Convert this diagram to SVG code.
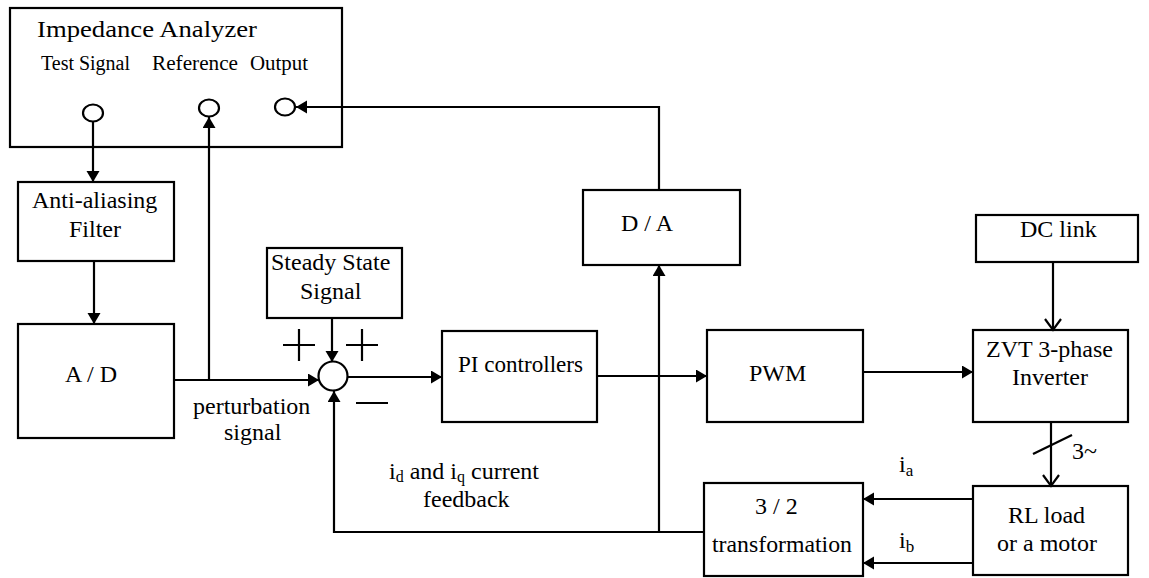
<svg xmlns="http://www.w3.org/2000/svg" width="1149" height="578" viewBox="0 0 1149 578">
<style>
.box{fill:#fff;stroke:#000;stroke-width:2.2}
.ln{fill:none;stroke:#000;stroke-width:2.2}
text{font-family:"Liberation Serif","Times New Roman",serif;fill:#000}
.t{font-size:24px}
.s{font-size:20px}
</style>
<defs>
<marker id="a" markerUnits="userSpaceOnUse" markerWidth="12" markerHeight="14" refX="11" refY="6.5" orient="auto">
<path d="M0,0 L11,6.5 L0,13 z" fill="#000"/>
</marker>
<marker id="v" markerUnits="userSpaceOnUse" markerWidth="16" markerHeight="20" refX="12" refY="9" orient="auto">
<path d="M1,1 L12,9 L1,17" fill="none" stroke="#000" stroke-width="2.2"/>
</marker>
</defs>
<rect width="1149" height="578" fill="#fff"/>
<g id="impedance-analyzer">
<rect class="box" x="10" y="8" width="332" height="139"/>
<text class="t" x="37" y="37" textLength="220" lengthAdjust="spacingAndGlyphs" font-family="Liberation Serif, serif">Impedance Analyzer</text>
<text class="s" x="41" y="70" textLength="89" lengthAdjust="spacingAndGlyphs" font-family="Liberation Serif, serif">Test Signal</text>
<text class="s" x="152" y="70" textLength="86" lengthAdjust="spacingAndGlyphs" font-family="Liberation Serif, serif">Reference</text>
<text class="s" x="250" y="70" textLength="58" lengthAdjust="spacingAndGlyphs" font-family="Liberation Serif, serif">Output</text>
<ellipse class="ln" cx="93" cy="113" rx="10" ry="8.5"/>
<ellipse class="ln" cx="209" cy="108" rx="10" ry="8.5"/>
<ellipse class="ln" cx="285" cy="107" rx="10" ry="8.5"/>
</g>
<g id="anti-aliasing">
<rect class="box" x="18" y="182" width="156" height="79"/>
<text class="t" x="32" y="208" font-family="Liberation Serif, serif">Anti-aliasing</text>
<text class="t" x="69" y="237" font-family="Liberation Serif, serif">Filter</text>
</g>
<g id="ad">
<rect class="box" x="18" y="324" width="156" height="114"/>
<text class="t" x="65" y="382" font-family="Liberation Serif, serif">A / D</text>
</g>
<g id="steady-state">
<rect class="box" x="267" y="248" width="135" height="70"/>
<text class="t" x="271" y="270" font-family="Liberation Serif, serif">Steady State</text>
<text class="t" x="300" y="299" font-family="Liberation Serif, serif">Signal</text>
</g>
<g id="sum">
<circle class="ln" cx="333" cy="376" r="14.5"/>
<path class="ln" d="M283,345 H315 M299,329 V361 M346,345 H378 M362,329 V361 M356,403 H388"/>
<text class="t" x="193" y="414" font-family="Liberation Serif, serif">perturbation</text>
<text class="t" x="224" y="440" font-family="Liberation Serif, serif">signal</text>
</g>
<g id="pi">
<rect class="box" x="442" y="331" width="155" height="91"/>
<text class="t" x="458" y="372" textLength="125" lengthAdjust="spacingAndGlyphs" font-family="Liberation Serif, serif">PI controllers</text>
</g>
<g id="da">
<rect class="box" x="583" y="190" width="157" height="75"/>
<text class="t" x="621" y="231" font-family="Liberation Serif, serif">D / A</text>
</g>
<g id="pwm">
<rect class="box" x="707" y="330" width="156" height="92"/>
<text class="t" x="749" y="381" font-family="Liberation Serif, serif">PWM</text>
</g>
<g id="dc-link">
<rect class="box" x="976" y="215" width="162" height="47"/>
<text class="t" x="1020" y="237" font-family="Liberation Serif, serif">DC link</text>
</g>
<g id="zvt">
<rect class="box" x="973" y="330" width="155" height="92"/>
<text class="t" x="986" y="357" textLength="127" lengthAdjust="spacingAndGlyphs" font-family="Liberation Serif, serif">ZVT 3-phase</text>
<text class="t" x="1012" y="385" font-family="Liberation Serif, serif">Inverter</text>
<text class="t" x="1072" y="459" font-family="Liberation Serif, serif">3~</text>
</g>
<g id="rl-load">
<rect class="box" x="973" y="486" width="155" height="89"/>
<text class="t" x="1008" y="523" font-family="Liberation Serif, serif">RL load</text>
<text class="t" x="997" y="551" font-family="Liberation Serif, serif">or a motor</text>
</g>
<g id="transformation">
<rect class="box" x="704" y="483" width="159" height="93"/>
<text class="t" x="755" y="514" font-family="Liberation Serif, serif">3 / 2</text>
<text class="t" x="712" y="552" textLength="140" lengthAdjust="spacingAndGlyphs" font-family="Liberation Serif, serif">transformation</text>
<text class="t" x="899" y="472" font-family="Liberation Serif, serif">i<tspan font-size="17" dy="4">a</tspan></text>
<text class="t" x="899" y="548" font-family="Liberation Serif, serif">i<tspan font-size="17" dy="4">b</tspan></text>
</g>
<g id="feedback-label">
<text class="t" x="389" y="479" font-family="Liberation Serif, serif">i<tspan font-size="16" dy="3">d</tspan><tspan dy="-3"> and i</tspan><tspan font-size="16" dy="3">q</tspan><tspan dy="-3"> current</tspan></text>
<text class="t" x="423" y="507" font-family="Liberation Serif, serif">feedback</text>
</g>
<g id="connectors">
<line class="ln" x1="93" y1="122" x2="93" y2="182" marker-end="url(#a)"/>
<line class="ln" x1="94" y1="261" x2="94" y2="324" marker-end="url(#a)"/>
<polyline class="ln" points="174,380 319,380" marker-end="url(#a)"/>
<line class="ln" x1="209" y1="380" x2="209" y2="117" marker-end="url(#a)"/>
<line class="ln" x1="332" y1="318" x2="332" y2="362" marker-end="url(#a)"/>
<line class="ln" x1="348" y1="377" x2="442" y2="377" marker-end="url(#a)"/>
<line class="ln" x1="597" y1="376" x2="707" y2="376" marker-end="url(#a)"/>
<line class="ln" x1="863" y1="372" x2="973" y2="372" marker-end="url(#a)"/>
<line class="ln" x1="1053" y1="262" x2="1053" y2="330" marker-end="url(#v)"/>
<line class="ln" x1="1051" y1="422" x2="1051" y2="486" marker-end="url(#v)"/>
<line class="ln" x1="1033" y1="454" x2="1072" y2="435"/>
<line class="ln" x1="973" y1="499" x2="863" y2="499" marker-end="url(#a)"/>
<line class="ln" x1="973" y1="563" x2="863" y2="563" marker-end="url(#a)"/>
<polyline class="ln" points="704,532 334,532 334,391" marker-end="url(#a)"/>
<line class="ln" x1="659" y1="532" x2="659" y2="265" marker-end="url(#a)"/>
<polyline class="ln" points="659,190 659,107 296,107" marker-end="url(#a)"/>
</g>
</svg>
